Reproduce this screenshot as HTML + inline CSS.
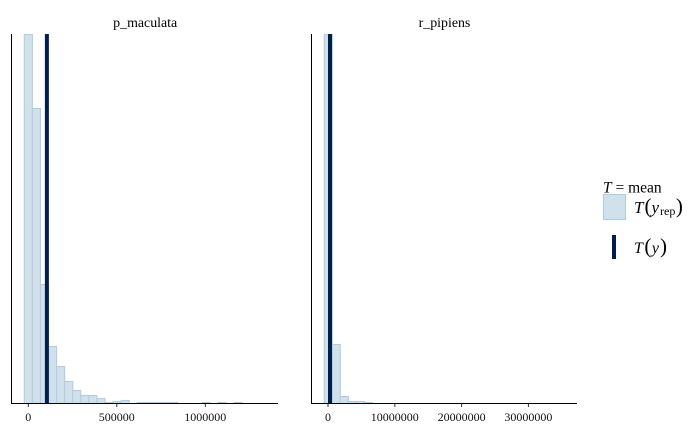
<!DOCTYPE html>
<html lang="en">
<head>
<meta charset="utf-8">
<title>Posterior predictive check</title>
<style>
html,body{margin:0;padding:0;background:#fff;width:700px;height:432px;overflow:hidden}
svg{display:block;font-family:"Liberation Serif",serif}
</style>
</head>
<body>
<svg id="chart" width="700" height="432" viewBox="0 0 700 432" xmlns="http://www.w3.org/2000/svg">
  <rect x="0" y="0" width="700" height="432" fill="#ffffff"/>
  <g id="panels"></g>
  <g>
    <text x="603" y="192.500" font-size="15.500" fill="#000"><tspan font-style="italic">T</tspan> = mean</text>
    <rect x="603.500" y="194.500" width="22" height="25" fill="#d1e1ec" stroke="#b3cde0" stroke-width="1.100"/>
    <text x="634" y="213" font-size="17" fill="#000"><tspan font-style="italic">T</tspan><tspan font-size="21" dx="1">(</tspan><tspan font-style="italic">y</tspan><tspan font-size="12" dx="1" dy="2">rep</tspan><tspan font-size="21" dy="-2" dx="0.500">)</tspan></text>
    <rect x="612" y="235" width="4" height="24" fill="#011f4b"/>
    <text x="634" y="253" font-size="16" fill="#000"><tspan font-style="italic">T</tspan><tspan font-size="21" dx="1.500">(</tspan><tspan font-style="italic" dx="0.500">y</tspan><tspan font-size="21" dx="1">)</tspan></text>
  </g>
</svg>
<script>
// p_maculata histogram
const maculataBinStart = -22600;
const maculataBinWidth = 45600;
const maculataCounts = [369, 295, 119, 57, 37, 22, 13, 8, 8, 5, 1, 2, 3, 0, 1, 1, 1, 1, 1, 0, 0, 0, 1, 0, 1, 0, 1];
const maculataObserved = 105000;
const maculataTicks = [0, 500000, 1000000];

// r_pipiens histogram
const pipiensBinStart = -555000;
const pipiensBinWidth = 1200000;
const pipiensCounts = [369, 59, 7, 2, 2, 1];
const pipiensObserved = 300000;
const pipiensTicks = [0, 10000000, 20000000, 30000000];

const SVG_NS = 'http://www.w3.org/2000/svg';
const panelsRoot = document.getElementById('panels');

function make(tag, attrs, parent) {
  const el = document.createElementNS(SVG_NS, tag);
  for (const k in attrs) el.setAttribute(k, attrs[k]);
  parent.appendChild(el);
  return el;
}

function drawPanel(cfg) {
  const baseY = 403.5, topY = 34;
  const xScale = v => cfg.zeroX + v * cfg.pxPerUnit;
  const peak = Math.max.apply(null, cfg.counts);
  const yScale = c => baseY - (c / peak) * (baseY - topY - 0.5);

  const g = make('g', {}, panelsRoot);
  
  

  cfg.counts.forEach((c, i) => {
    if (c <= 0) return;
    const x0 = xScale(cfg.binStart + i * cfg.binWidth);
    const x1 = xScale(cfg.binStart + (i + 1) * cfg.binWidth);
    const bar = make('rect', {
      x: x0, y: yScale(c), width: x1 - x0, height: baseY - yScale(c),
      fill: '#d1e1ec', stroke: '#b3cde0', 'stroke-width': 1.1
    }, g);
    
    
  });

  const obsX = xScale(cfg.observed);
  const obs = make('rect', { x: obsX - 2, y: topY, width: 4, height: baseY - topY, fill: '#011f4b' }, g);
  
  

  const yAxis = make('line', { x1: cfg.axisLeft + 0.5, x2: cfg.axisLeft + 0.5, y1: topY, y2: 404, stroke: '#000', 'stroke-width': 1 }, g);
  
  

  const xAxis = make('line', { x1: cfg.axisLeft, x2: cfg.axisRight, y1: baseY, y2: baseY, stroke: '#000', 'stroke-width': 1 }, g);
  
  

  cfg.ticks.forEach(t => {
    const x = xScale(t);
    const mark = make('line', { x1: x, x2: x, y1: 404, y2: 407, stroke: '#333', 'stroke-width': 1 }, g);
    
    
    const label = make('text', { x: x, y: 421, 'text-anchor': 'middle', 'font-size': 12, fill: '#111' }, g);
    label.textContent = String(t);
    
    
  });

  const title = make('text', { x: cfg.titleX, y: 27, 'text-anchor': 'middle', 'font-size': 13.9, fill: '#000' }, g);
  title.textContent = cfg.name;
  
  
}

drawPanel({
  name: 'p_maculata', counts: maculataCounts, binStart: maculataBinStart, binWidth: maculataBinWidth,
  observed: maculataObserved, ticks: maculataTicks,
  zeroX: 28.3, pxPerUnit: 88.5 / 500000, axisLeft: 11, axisRight: 278, titleX: 145.2
});
drawPanel({
  name: 'r_pipiens', counts: pipiensCounts, binStart: pipiensBinStart, binWidth: pipiensBinWidth,
  observed: pipiensObserved, ticks: pipiensTicks,
  zeroX: 328, pxPerUnit: 66.8 / 10000000, axisLeft: 311, axisRight: 577, titleX: 444.5
});
</script>
</body>
</html>
